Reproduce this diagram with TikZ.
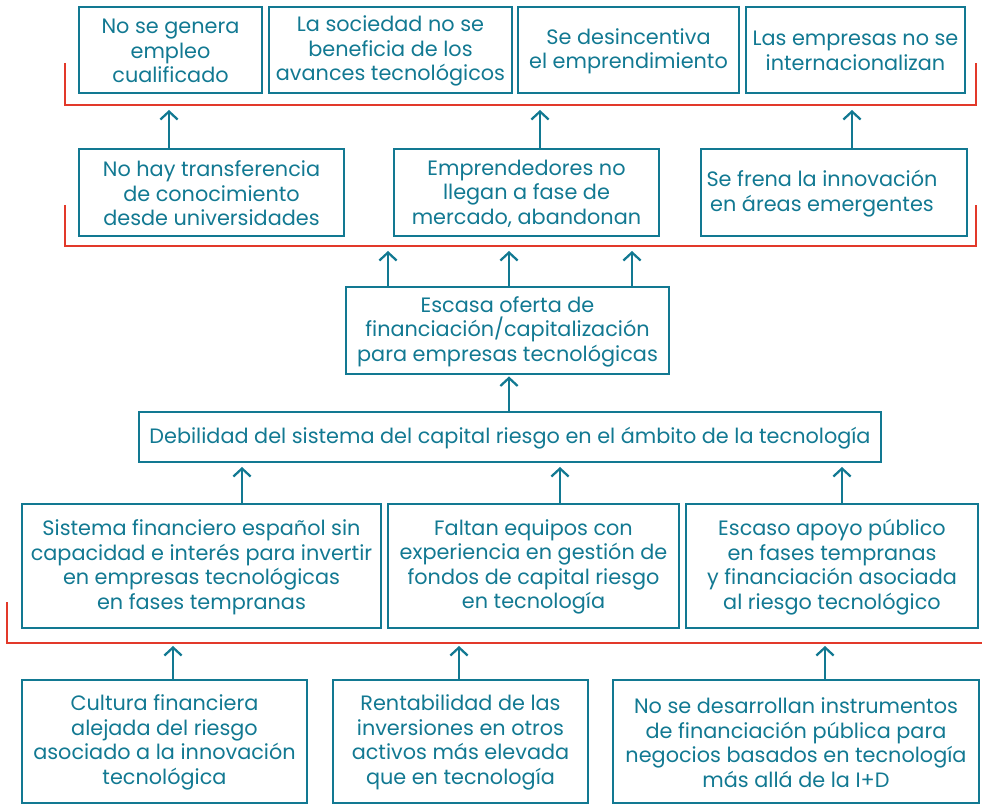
\documentclass[tikz,border=0pt]{standalone}
\usepackage{fontspec}
\setmainfont{Poppins}
\usetikzlibrary{fit,arrows.meta}
\definecolor{teal}{RGB}{18,121,146}
\definecolor{redl}{RGB}{226,57,42}
\begin{document}
\begin{tikzpicture}[x=0.75pt,y=-0.75pt,
  box/.style={draw=teal, line width=1.7pt, inner sep=0pt},
  txt/.style={inner sep=0pt, align=center, text=teal, font=\fontsize{15.6pt}{18.4pt}\selectfont},
  arr/.style={draw=teal, line width=1.7pt, -{Straight Barb[length=6pt,width=13pt,line width=1.7pt]}},
  brk/.style={draw=redl, line width=1.5pt}]
\useasboundingbox (0,0) rectangle (982,805);
% brackets
\draw[brk] (65,63) -- (65,105) -- (976,105) -- (976,63);
\draw[brk] (65,205) -- (65,246) -- (976,246) -- (976,205);
\draw[brk] (7,602) -- (7,643) -- (982,643);
% boxes
\node[box, fit={(79,7)(262,93)}] (b1) {};
\node[box, fit={(269,7)(512,93)}] (b2) {};
\node[box, fit={(518,7)(739,93)}] (b3) {};
\node[box, fit={(746,7)(965,93)}] (b4) {};
\node[box, fit={(79,149)(344,236)}] (c1) {};
\node[box, fit={(394,149)(659,236)}] (c2) {};
\node[box, fit={(701,149)(967,236)}] (c3) {};
\node[box, fit={(346,287)(669,374)}] (esc) {};
\node[box, fit={(139,412)(881,462)}] (deb) {};
\node[box, fit={(22,504)(381,628)}] (d1) {};
\node[box, fit={(388,504)(679,628)}] (d2) {};
\node[box, fit={(686,504)(978,628)}] (d3) {};
\node[box, fit={(22,680)(307,803)}] (e1) {};
\node[box, fit={(333,680)(588,803)}] (e2) {};
\node[box, fit={(613,680)(979,803)}] (e3) {};
% texts
\tikzset{dn/.style={yshift=-0.8pt}}
\node[txt] (b1t) at ([dn]b1.center) {No se genera\\empleo\\cualificado};
\node[txt] (b2t) at ([dn]b2.center) {La sociedad no se\\beneficia de los\\avances tecnológicos};
\node[txt] (b3t) at ([dn]b3.center) {Se desincentiva\\el emprendimiento};
\node[txt] (b4t) at ([dn]b4.center) {Las empresas no se\\internacionalizan};
\node[txt] (c1t) at ([dn]c1.center) {No hay transferencia\\de conocimiento\\desde universidades};
\node[txt] (c2t) at ([dn]c2.center) {Emprendedores no\\llegan a fase de\\mercado, abandonan};
\node[txt] (c3t) at ([dn,xshift=-9pt]c3.center) {Se frena la innovación\\en áreas emergentes};
\node[txt] (esct) at ([dn]esc.center) {Escasa oferta de\\financiación/capitalización\\para empresas tecnológicas};
\node[txt] (debt) at ([dn]deb.center) {Debilidad del sistema del capital riesgo en el ámbito de la tecnología};
\node[txt] (d1t) at ([dn]d1.center) {Sistema financiero español sin\\capacidad e interés para invertir\\en empresas tecnológicas\\en fases tempranas};
\node[txt] (d2t) at ([dn]d2.center) {Faltan equipos con\\experiencia en gestión de\\fondos de capital riesgo\\en tecnología};
\node[txt] (d3t) at ([dn]d3.center) {Escaso apoyo público\\en fases tempranas\\y financiación asociada\\al riesgo tecnológico};
\node[txt] (e1t) at ([dn]e1.center) {Cultura financiera\\alejada del riesgo\\asociado a la innovación\\tecnológica};
\node[txt] (e2t) at ([dn]e2.center) {Rentabilidad de las\\inversiones en otros\\activos más elevada\\que en tecnología};
\node[txt] (e3t) at ([dn]e3.center) {No se desarrollan instrumentos\\de financiación pública para\\negocios basados en tecnología\\más allá de la I+D};
% arrow tips
\coordinate (t1) at (169,110);
\coordinate (t2) at (540,110);
\coordinate (t3) at (852,110);
\coordinate (u1) at (388,251);
\coordinate (u2) at (509,251);
\coordinate (u3) at (632,251);
\coordinate (v1) at (242,467);
\coordinate (v2) at (560,467);
\coordinate (v3) at (842,467);
\coordinate (w1) at (173,646);
\coordinate (w2) at (459,646);
\coordinate (w3) at (825,646);
% arrows
\draw[arr] (c1.north -| t1) -- (t1);
\draw[arr] (c2.north -| t2) -- (t2);
\draw[arr] (c3.north -| t3) -- (t3);
\draw[arr] (esc.north -| u1) -- (u1);
\draw[arr] (esc.north -| u2) -- (u2);
\draw[arr] (esc.north -| u3) -- (u3);
\draw[arr] (deb.north -| u2) -- ([yshift=-1pt]esc.south -| u2);
\draw[arr] (d1.north -| v1) -- (v1);
\draw[arr] (d2.north -| v2) -- (v2);
\draw[arr] (d3.north -| v3) -- (v3);
\draw[arr] (e1.north -| w1) -- (w1);
\draw[arr] (e2.north -| w2) -- (w2);
\draw[arr] (e3.north -| w3) -- (w3);
\end{tikzpicture}
\end{document}
